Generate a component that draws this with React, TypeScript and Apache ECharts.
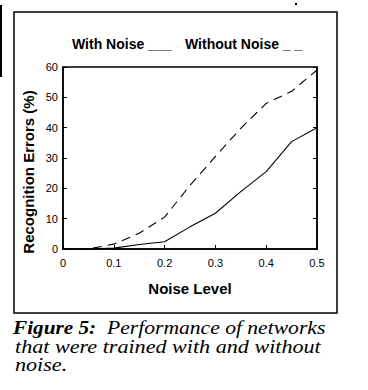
import React, { useEffect, useRef } from "react";
import * as echarts from "echarts";

const noiseLevels = [0, 0.05, 0.1, 0.15, 0.2, 0.25, 0.3, 0.35, 0.4, 0.45, 0.5];
const withNoise = [0, 0, 0.3, 1.5, 2.4, 7.3, 11.8, 18.9, 25.5, 35.4, 40];
const withoutNoise = [0, 0, 1.6, 5.2, 10.5, 21, 30.5, 39.8, 48, 52, 59];
const legendLabels = ["With Noise ___", "Without Noise _ _"];
const xAxisTitle = "Noise Level";
const yAxisTitle = "Recognition Errors (%)";
const captionBold = "Figure 5:";
const captionLines = ["Performance of networks", "that were trained with and without", "noise."];

const SANS = "'Liberation Sans', Arial, Helvetica, sans-serif";
const SERIF = "'Liberation Serif', 'Times New Roman', serif";

export default function App() {
  const ref = useRef<HTMLDivElement>(null);
  useEffect(() => {
    const chart = echarts.init(ref.current!, null, { renderer: "svg" });
    const pairs = (ys: number[]) => noiseLevels.map((x, i) => [x, ys[i]]);
    const capStyle = { fontFamily: SERIF, fontStyle: "italic", fontSize: 18, fill: "#000", textVerticalAlign: "middle" };
    const legStyle = { fontFamily: SANS, fontWeight: "bold", fontSize: 14, fill: "#000", textVerticalAlign: "bottom" };
    chart.setOption({
      animation: false,
      backgroundColor: "#ffffff",
      grid: { left: 63, right: 51, top: 67, bottom: 141, show: true, borderColor: "#000", borderWidth: 1.5, backgroundColor: "transparent" },
      xAxis: {
        type: "value",
        min: 0,
        max: 0.5,
        interval: 0.1,
        name: xAxisTitle,
        nameLocation: "middle",
        nameGap: 32,
        nameTextStyle: { fontFamily: SANS, fontWeight: "bold", fontSize: 15, color: "#000" },
        axisLine: { show: true, lineStyle: { color: "#000", width: 1.5 } },
        axisTick: { show: true, inside: true, length: 4, lineStyle: { color: "#000", width: 1 } },
        axisLabel: {
          fontFamily: SANS,
          fontSize: 11,
          color: "#000",
          margin: 8,
          formatter: (v: number) => (v === 0 ? "0" : v.toFixed(1)),
        },
        splitLine: { show: false },
      },
      yAxis: [
        {
          type: "value",
          min: 0,
          max: 60,
          interval: 10,
          axisLine: { show: true, lineStyle: { color: "#000", width: 1.5 } },
          axisTick: { show: true, inside: true, length: 4, lineStyle: { color: "#000", width: 1 } },
          axisLabel: { fontFamily: SANS, fontSize: 11, color: "#000", margin: 5 },
          splitLine: { show: false },
        },
        {
          type: "value",
          min: 0,
          max: 60,
          interval: 10,
          position: "right",
          axisLine: { show: true, lineStyle: { color: "#000", width: 1.5 } },
          axisTick: { show: true, inside: true, length: 4, lineStyle: { color: "#000", width: 1 } },
          axisLabel: { show: false },
          splitLine: { show: false },
        },
      ],
      series: [
        {
          name: "With Noise",
          type: "line",
          data: pairs(withNoise),
          showSymbol: false,
          lineStyle: { color: "#000", width: 1.1, type: "solid" },
          z: 3,
        },
        {
          name: "Without Noise",
          type: "line",
          data: pairs(withoutNoise),
          showSymbol: false,
          lineStyle: { color: "#000", width: 1.1, type: [9, 6] },
          z: 3,
        },
      ],
      graphic: [
        { type: "rect", shape: { x: 14, y: 12, width: 323, height: 301 }, style: { fill: "none", stroke: "#000", lineWidth: 1.5 }, z: -1 },
        { type: "rect", shape: { x: 0, y: 5, width: 2, height: 72 }, style: { fill: "#000" } },
        { type: "rect", shape: { x: 295, y: 3, width: 2, height: 2 }, style: { fill: "#000" } },
        { type: "text", x: 72, y: 51, style: { ...legStyle, text: legendLabels[0] } },
        { type: "text", x: 185, y: 51, style: { ...legStyle, text: legendLabels[1] } },
        {
          type: "text",
          x: 28,
          y: 172,
          rotation: Math.PI / 2,
          scaleX: 1.0,
          style: { text: yAxisTitle, fontFamily: SANS, fontWeight: "bold", fontSize: 15, fill: "#000", textAlign: "center", textVerticalAlign: "middle" },
        },
        { type: "text", x: 13, y: 328, scaleX: 1.18, style: { ...capStyle, text: captionBold, fontWeight: "bold" } },
        { type: "text", x: 107, y: 328, scaleX: 1.2, style: { ...capStyle, text: captionLines[0] } },
        { type: "text", x: 15, y: 346.5, scaleX: 1.23, style: { ...capStyle, text: captionLines[1] } },
        { type: "text", x: 15, y: 364.5, scaleX: 1.23, style: { ...capStyle, text: captionLines[2] } },
      ],
    });
    return () => chart.dispose();
  }, []);
  return <div ref={ref} style={{ width: 368, height: 390, position: "absolute", left: 0, top: 0 }} />;
}
